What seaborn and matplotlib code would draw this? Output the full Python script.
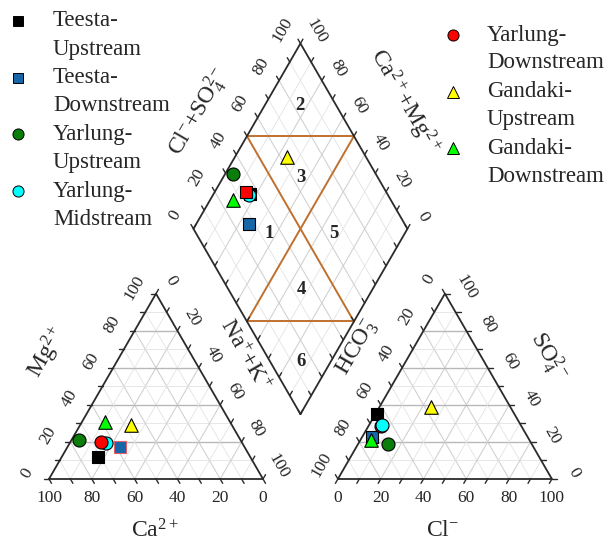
import numpy as np
import pandas as pd
import matplotlib
matplotlib.use("Agg")
import matplotlib.pyplot as plt
import seaborn as sns

# ---------------- data (percent of meq) ----------------
series = ["Teesta-Upstream", "Teesta-Downstream", "Yarlung-Upstream",
          "Yarlung-Midstream", "Yarlung-Downstream", "Gandaki-Upstream",
          "Gandaki-Downstream"]
ca = [71.0, 58.5, 75.5, 63.5, 65.5, 47.0, 58.5]
mg = [12.0, 17.0, 21.0, 19.5, 20.0, 29.0, 31.0]
nak = [17.0, 24.5, 3.5, 17.0, 14.5, 24.0, 10.5]
hco3 = [64.0, 73.0, 67.0, 65.0, 65.5, 37.0, 74.0]
so4 = [35.0, 22.5, 19.0, 29.0, 28.5, 39.0, 21.0]
cl = [1.0, 4.5, 14.0, 6.0, 6.0, 24.0, 5.0]
tick_values = [0, 20, 40, 60, 80, 100]
zone_labels = ["1", "2", "3", "4", "5", "6"]

# ---------------- styles ----------------
marker_of = dict(zip(series, ["s", "s", "o", "o", "o", "^", "^"]))
color_of = dict(zip(series, ["#000000", "#1666a8", "#0a7d0a", "#00ffff",
                             "#ff0000", "#ffff00", "#00ff00"]))
size_of = {"s": 64, "o": 88, "^": 95}

sns.set_theme(style="white")
plt.rcParams["font.family"] = ["Liberation Serif", "DejaVu Serif"]
plt.rcParams["mathtext.fontset"] = "custom"
plt.rcParams["mathtext.rm"] = "Liberation Serif"
plt.rcParams["mathtext.it"] = "Liberation Serif:italic"
plt.rcParams["mathtext.bf"] = "Liberation Serif:bold"

H = np.sqrt(3) / 2
GAP = 0.35
AX0 = 1 + GAP
DBX, DBY = 1 + GAP / 2, GAP / 2 * np.sqrt(3)

S = 214.0  # pixels per unit


def P(x, y):
    return (x - 49) / S, (479 - y) / S


def tri_pt(ox, f0, f1, f2):
    # corners: left (ox,0), right (ox+1,0), apex (ox+.5,H)
    return ox * (f0 + f1 + f2) + f1 + 0.5 * f2, H * f2


def dia_pt(c, a):
    return DBX + 0.5 * (a - c), DBY + H * (a + c)


fig = plt.figure(figsize=(6.08, 5.46), dpi=100)
ax = fig.add_axes([0, 0, 1, 1])
ax.set_xlim(-49 / S, (608 - 49) / S)
ax.set_ylim(-(546 - 479) / S, 479 / S)
ax.axis("off")

edge_kw = dict(color="#2b2b2b", lw=1.3, zorder=3, solid_capstyle="round")

# ---------------- grids ----------------
def grid_color(k, horizontal):
    if k % 20 == 0:
        return ("#b8b8b8", 1.0) if horizontal else ("#cfcfcf", 0.75)
    return ("#e3e3e3", 0.6)


for ox in (0.0, AX0):
    for k in range(10, 100, 10):
        t = k / 100
        for i in range(3):
            f_a = [0, 0, 0]
            f_b = [0, 0, 0]
            f_a[i] = t
            f_b[i] = t
            others = [j for j in range(3) if j != i]
            f_a[others[0]] = 1 - t
            f_b[others[1]] = 1 - t
            xa, ya = tri_pt(ox, *f_a)
            xb, yb = tri_pt(ox, *f_b)
            col, lw = grid_color(k, i == 2)
            ax.plot([xa, xb], [ya, yb], color=col, lw=lw, zorder=1)
    xs = [ox, ox + 1, ox + 0.5, ox]
    ys = [0, 0, H, 0]
    ax.plot(xs, ys, **edge_kw)

for k in range(10, 100, 10):
    t = k / 100
    col, lw = grid_color(k, False)
    x1, y1 = dia_pt(t, 0)
    x2, y2 = dia_pt(t, 1)
    ax.plot([x1, x2], [y1, y2], color=col, lw=lw, zorder=1)
    x1, y1 = dia_pt(0, t)
    x2, y2 = dia_pt(1, t)
    ax.plot([x1, x2], [y1, y2], color=col, lw=lw, zorder=1)
corners = [dia_pt(0, 0), dia_pt(1, 0), dia_pt(1, 1), dia_pt(0, 1), dia_pt(0, 0)]
ax.plot([p[0] for p in corners], [p[1] for p in corners], **edge_kw)

# hourglass zone lines
orange = "#c0702e"
for (c1, a1), (c2, a2) in [((1, .5), (0, .5)), ((.5, 1), (.5, 0)),
                           ((1, .5), (.5, 1)), ((.5, 0), (0, .5))]:
    x1, y1 = dia_pt(c1, a1)
    x2, y2 = dia_pt(c2, a2)
    ax.plot([x1, x2], [y1, y2], color=orange, lw=1.4, zorder=2)

# ---------------- ticks ----------------
TL = 5 / S


def ticks(points, direction):
    d = np.array(direction) / np.hypot(*direction) * TL
    for (x, y) in points:
        ax.plot([x, x + d[0]], [y, y + d[1]], color="#2b2b2b", lw=1.0, zorder=3)


ks = [k / 100 for k in range(0, 101, 10)]
# cation
ticks([tri_pt(0, 1 - t, t, 0) for t in ks], (0.5, -H))
ticks([tri_pt(0, 1 - t, 0, t) for t in ks], (-1, 0))
ticks([tri_pt(0, 0, t, 1 - t) for t in ks], (0.5, H))
# anion
ticks([tri_pt(AX0, 1 - t, t, 0) for t in ks], (-0.5, -H))
ticks([tri_pt(AX0, t, 0, 1 - t) for t in ks], (-0.5, H))
ticks([tri_pt(AX0, 0, 1 - t, t) for t in ks], (1, 0))
# diamond
ticks([dia_pt(1, t) for t in ks], (-0.5, H))
ticks([dia_pt(t, 1) for t in ks], (0.5, H))
ticks([dia_pt(t, 0) for t in ks], (0.5, H))
ticks([dia_pt(0, t) for t in ks], (-0.5, H))

# ---------------- tick labels ----------------
TFS = 12.5


def tlabels(points, values, off, rot):
    for (x, y), v in zip(points, values):
        ax.text(x + off[0] / S, y - off[1] / S, str(v), fontsize=TFS,
                rotation=rot, ha="center", va="center", zorder=4)


tv = tick_values
tlabels([tri_pt(0, v / 100, 1 - v / 100, 0) for v in tv], tv, (0, 19), 0)
tlabels([tri_pt(0, 1 - v / 100, 0, v / 100) for v in tv], tv, (-22, -6), 60)
tlabels([tri_pt(0, 0, v / 100, 1 - v / 100) for v in tv], tv, (15, -13), -60)
tlabels([tri_pt(AX0, 1 - v / 100, v / 100, 0) for v in tv], tv, (0, 19), 0)
tlabels([tri_pt(AX0, v / 100, 0, 1 - v / 100) for v in tv], tv, (-16, -14), 60)
tlabels([tri_pt(AX0, 0, 1 - v / 100, v / 100) for v in tv], tv, (22, -6), -60)
tlabels([dia_pt(1, v / 100) for v in tv], tv, (-18, -14), 60)
tlabels([dia_pt(v / 100, 1) for v in tv], tv, (16, -12), -60)

# ---------------- axis titles ----------------
AFS = 17
titles = [
    (r"$\mathregular{Ca^{2+}}$", (155, 531), 0),
    (r"$\mathregular{Cl^{-}}$", (443, 531), 0),
    (r"$\mathregular{Mg^{2+}}$", (47, 352), 60),
    (r"$\mathregular{Na^{+}{+}K^{+}}$", (244, 355), -60),
    (r"$\mathregular{HCO_3^{-}}$", (358, 348), 60),
    (r"$\mathregular{SO_4^{2-}}$", (548, 356), -60),
    (r"$\mathregular{Cl^{-}{+}SO_4^{2-}}$", (199, 112), 60),
    (r"$\mathregular{Ca^{2+}{+}Mg^{2+}}$", (404, 102), -60),
]
for txt, (px, py), rot in titles:
    x, y = P(px, py)
    ax.text(x, y, txt, fontsize=AFS, rotation=rot, ha="center", va="center",
            rotation_mode="anchor", zorder=4)

# zone numbers
zone_pos = [(269, 233), (300, 105), (301, 177), (301, 290), (334, 233), (301, 361)]
for lab, (px, py) in zip(zone_labels, zone_pos):
    x, y = P(px, py)
    ax.text(x, y, lab, fontsize=13.5, fontweight="bold", ha="center", va="center", zorder=4)

# ---------------- data points ----------------
cat_df = pd.DataFrame({"series": series, "x": [tri_pt(0, c / 100, n / 100, m / 100)[0] for c, n, m in zip(ca, nak, mg)],
                       "y": [tri_pt(0, c / 100, n / 100, m / 100)[1] for c, n, m in zip(ca, nak, mg)]})
an_df = pd.DataFrame({"series": series, "x": [tri_pt(AX0, h / 100, c / 100, s / 100)[0] for h, c, s in zip(hco3, cl, so4)],
                      "y": [tri_pt(AX0, h / 100, c / 100, s / 100)[1] for h, c, s in zip(hco3, cl, so4)]})
dia_c = [(c + m) / 100 for c, m in zip(ca, mg)]
dia_a = [(c + s) / 100 for c, s in zip(cl, so4)]
dia_df = pd.DataFrame({"series": series, "x": [dia_pt(c, a)[0] for c, a in zip(dia_c, dia_a)],
                       "y": [dia_pt(c, a)[1] for c, a in zip(dia_c, dia_a)]})

panel_order = {
    "cat": series,
    "an": ["Teesta-Upstream", "Teesta-Downstream", "Yarlung-Upstream", "Yarlung-Downstream",
           "Yarlung-Midstream", "Gandaki-Upstream", "Gandaki-Downstream"],
    "dia": series,
}
overrides = {
    ("cat", "Teesta-Downstream"): {"edgecolor": "#e0606a"},
    ("dia", "Yarlung-Downstream"): {"marker": "s"},
}

for pname, df in (("cat", cat_df), ("an", an_df), ("dia", dia_df)):
    for z, name in enumerate(panel_order[pname]):
        row = df[df["series"] == name]
        mk = overrides.get((pname, name), {}).get("marker", marker_of[name])
        ec = overrides.get((pname, name), {}).get("edgecolor", "black")
        sns.scatterplot(data=row, x="x", y="y", marker=mk, s=size_of[mk],
                        color=color_of[name], edgecolor=ec, linewidth=0.8,
                        ax=ax, zorder=5 + z * 0.1, legend=False)
ax.set_xlabel("")
ax.set_ylabel("")
ax.set_xlim(-49 / S, (608 - 49) / S)
ax.set_ylim(-(546 - 479) / S, 479 / S)

# ---------------- legends ----------------
LFS = 16.5
leg_ms = {"s": 6.5, "o": 8.0, "^": 9.0}
left = series[:4]
right = series[4:]
for names, mx, tx, y0 in ((left, 18, 53, 21), (right, 453, 487, 35)):
    for i, name in enumerate(names):
        y = y0 + i * 56.7
        first, second = name.split("-")
        mk = marker_of[name]
        x, yy = P(mx, y)
        ax.plot([x], [yy], marker=mk, ms=leg_ms[mk], color=color_of[name],
                mec="black", mew=0.7, ls="none", zorder=6)
        x, yy = P(tx, y)
        ax.text(x, yy, first + "-", fontsize=LFS, ha="left", va="center")
        x, yy = P(tx, y + 28)
        ax.text(x, yy, second, fontsize=LFS, ha="left", va="center")

fig.savefig("out.png", dpi=100)
